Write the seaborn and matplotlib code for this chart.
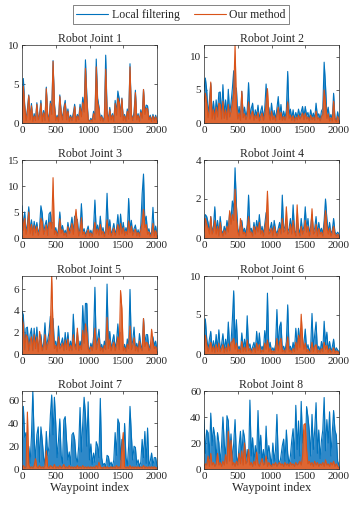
import numpy as np
import matplotlib
matplotlib.use("Agg")
import matplotlib.pyplot as plt
import seaborn as sns

# waypoint indices sampled every 20 steps
waypoints = list(range(0, 2001, 20))

j1_local = [0.5, 5.7, 2.3, 0.4, 1.8, 3.6, 0.6, 2.5, 0.3, 1.2,
            0.4, 2.6, 0.5, 1.1, 2.9, 0.3, 1.6, 0.4, 4.6, 1.2,
            0.3, 2.8, 1.4, 8.0, 2.6, 0.4, 1.0, 0.3, 3.6, 1.5,
            0.5, 2.0, 2.9, 0.6, 1.8, 0.3, 1.0, 0.4, 1.3, 2.4,
            0.3, 1.1, 0.6, 2.4, 1.0, 3.3, 1.8, 8.1, 3.6, 0.5,
            0.2, 0.6, 0.3, 1.5, 0.5, 8.2, 3.2, 2.1, 0.4, 1.0,
            0.3, 0.8, 8.7, 1.6, 0.3, 2.0, 0.5, 1.2, 0.3, 2.9,
            1.3, 4.1, 3.1, 1.0, 3.2, 0.4, 1.1, 0.3, 1.8, 0.6,
            7.6, 1.2, 0.4, 1.4, 4.2, 0.5, 1.2, 0.3, 1.7, 0.8,
            4.3, 1.4, 2.3, 2.2, 0.5, 1.0, 0.3, 1.1, 0.4, 1.0,
            0.3]
j1_ours = [0.4, 4.7, 2.0, 0.3, 1.5, 3.5, 0.4, 2.2, 0.2, 0.9,
           0.3, 2.4, 0.4, 0.8, 2.5, 0.2, 1.3, 0.3, 4.4, 0.9,
           0.2, 2.5, 1.1, 7.9, 2.2, 0.3, 0.8, 0.2, 3.4, 1.2,
           0.4, 1.7, 2.5, 0.4, 1.5, 0.2, 0.8, 0.3, 1.0, 2.1,
           0.2, 0.9, 0.4, 2.0, 0.8, 2.6, 1.4, 7.0, 2.8, 0.4,
           0.2, 0.4, 0.2, 1.2, 0.4, 7.2, 2.6, 1.8, 0.3, 0.8,
           0.2, 0.6, 6.9, 1.3, 0.2, 1.7, 0.4, 1.0, 0.2, 2.5,
           1.0, 3.2, 2.6, 0.8, 3.1, 0.3, 0.9, 0.2, 1.5, 0.5,
           7.2, 1.0, 0.3, 1.1, 3.9, 0.4, 1.0, 0.2, 1.4, 0.6,
           4.3, 1.1, 1.9, 1.8, 0.4, 0.8, 0.2, 0.9, 0.3, 0.8,
           0.2]

j2_local = [5.0, 6.8, 5.0, 1.2, 3.4, 6.0, 1.0, 3.3, 0.8, 3.5,
            1.5, 4.6, 4.7, 1.0, 5.8, 1.2, 3.5, 0.8, 5.1, 1.4,
            3.0, 5.2, 7.9, 2.0, 5.3, 1.0, 2.5, 0.7, 4.8, 1.2,
            2.4, 0.8, 2.0, 6.1, 1.0, 2.2, 3.0, 0.6, 2.0, 1.1,
            2.7, 0.5, 1.8, 2.6, 0.7, 2.2, 5.9, 1.6, 2.4, 0.6,
            3.0, 0.8, 1.9, 0.5, 2.2, 4.0, 0.9, 2.8, 0.6, 1.8,
            0.7, 2.0, 7.8, 1.2, 2.1, 0.6, 2.0, 0.5, 1.6, 0.8,
            2.1, 1.0, 1.7, 2.5, 0.9, 2.5, 1.1, 1.6, 0.5, 2.0,
            0.8, 1.5, 0.6, 3.0, 1.0, 1.4, 0.5, 1.8, 2.2, 9.2,
            5.7, 1.2, 2.4, 0.5, 1.3, 0.4, 4.5, 0.8, 0.3, 1.7,
            0.4]
j2_ours = [3.2, 4.5, 3.0, 0.8, 2.2, 6.2, 0.6, 2.0, 0.5, 2.4,
           0.9, 3.0, 2.8, 0.6, 3.3, 0.7, 2.0, 0.5, 2.8, 0.9,
           1.8, 3.0, 4.5, 11.8, 2.8, 0.6, 1.5, 0.4, 4.8, 0.8,
           1.4, 0.5, 1.2, 3.2, 0.6, 1.3, 1.8, 0.4, 1.2, 0.7,
           1.6, 0.3, 1.0, 1.5, 0.4, 1.3, 3.0, 5.2, 1.4, 0.4,
           1.8, 0.5, 1.1, 0.3, 1.3, 2.4, 0.5, 1.6, 0.4, 1.0,
           0.4, 1.2, 3.2, 0.7, 1.2, 0.4, 1.1, 0.3, 0.9, 0.5,
           1.2, 0.6, 1.0, 1.5, 0.5, 1.5, 0.6, 0.9, 0.3, 1.2,
           0.5, 0.9, 0.4, 1.8, 0.6, 0.8, 0.3, 1.0, 1.3, 5.0,
           3.0, 0.7, 1.4, 0.3, 0.8, 0.3, 3.3, 0.5, 0.2, 1.0,
           0.3]

j3_local = [6.2, 2.0, 5.0, 1.0, 2.8, 6.0, 1.2, 3.5, 0.8, 3.2,
            1.5, 3.0, 0.7, 2.0, 6.2, 4.7, 1.0, 2.4, 3.4, 0.8,
            4.6, 5.0, 2.8, 3.0, 1.0, 2.0, 0.6, 1.8, 5.0, 1.3,
            2.4, 0.8, 1.5, 0.5, 3.0, 1.2, 2.2, 4.0, 1.0, 4.2,
            1.4, 3.6, 0.6, 2.0, 6.6, 1.0, 1.8, 0.5, 1.4, 2.3,
            0.6, 1.5, 0.4, 2.0, 7.3, 1.2, 2.5, 0.8, 4.2, 1.0,
            2.0, 0.5, 1.6, 8.6, 1.0, 3.5, 0.6, 1.5, 2.8, 0.7,
            1.8, 4.5, 0.9, 4.6, 1.2, 3.0, 0.8, 2.0, 1.0, 7.6,
            1.5, 3.4, 0.7, 1.8, 2.5, 0.6, 1.6, 0.5, 2.4, 8.5,
            12.3, 3.0, 4.2, 1.0, 1.8, 0.5, 1.2, 5.9, 0.6, 2.3,
            0.5]
j3_ours = [5.2, 1.5, 3.8, 0.7, 2.0, 5.0, 0.8, 2.6, 0.5, 2.4,
           1.0, 2.2, 0.5, 1.4, 3.8, 3.0, 0.7, 1.6, 2.5, 0.5,
           2.9, 3.0, 1.8, 11.6, 0.7, 1.4, 0.4, 1.2, 3.7, 0.9,
           1.6, 0.5, 1.0, 0.3, 2.2, 0.8, 1.5, 2.8, 0.7, 3.0,
           5.5, 2.4, 0.4, 1.4, 3.9, 0.7, 1.2, 0.3, 0.9, 1.6,
           0.4, 1.0, 0.3, 1.4, 3.0, 0.8, 1.7, 0.5, 2.6, 0.7,
           1.3, 0.3, 1.1, 3.5, 0.7, 2.2, 0.4, 1.0, 1.9, 0.5,
           1.2, 2.6, 0.6, 2.8, 0.8, 2.0, 0.5, 1.3, 0.7, 3.3,
           1.0, 2.3, 0.5, 1.2, 1.7, 0.4, 1.1, 0.3, 1.6, 3.0,
           5.5, 2.0, 2.6, 0.7, 1.2, 0.3, 0.8, 2.8, 0.4, 1.4,
           0.3]

j4_local = [0.4, 1.2, 1.1, 0.8, 0.3, 1.1, 0.3, 0.6, 1.6, 0.3,
            0.9, 0.2, 1.1, 0.4, 0.2, 0.6, 0.3, 0.9, 0.5, 1.3,
            1.0, 1.9, 1.4, 3.6, 1.7, 0.5, 0.2, 0.6, 0.9, 0.3,
            0.5, 0.2, 0.7, 2.2, 0.4, 0.5, 0.2, 0.8, 0.3, 0.9,
            0.4, 1.2, 0.3, 0.6, 0.2, 0.7, 1.3, 1.0, 0.3, 0.5,
            0.8, 0.2, 0.9, 0.4, 0.2, 0.5, 0.8, 0.3, 2.2, 0.4,
            0.6, 1.0, 0.3, 0.5, 1.0, 0.3, 1.7, 0.4, 0.2, 0.9,
            0.5, 0.2, 1.0, 0.3, 0.6, 1.6, 0.4, 1.0, 0.2, 0.6,
            1.2, 0.3, 0.5, 1.1, 0.2, 0.8, 0.3, 0.5, 0.2, 0.9,
            2.0, 1.0, 0.3, 0.8, 0.2, 0.4, 1.0, 0.3, 0.2, 0.3,
            0.2]
j4_ours = [0.3, 1.0, 0.7, 0.5, 0.2, 1.1, 0.2, 0.4, 0.9, 0.2,
           0.6, 0.1, 0.8, 0.3, 0.1, 0.4, 0.2, 0.6, 0.3, 1.4,
           0.7, 1.2, 0.9, 2.5, 1.0, 0.3, 0.1, 1.0, 0.6, 0.2,
           0.3, 0.1, 0.5, 1.1, 0.3, 0.3, 0.1, 0.6, 0.2, 0.6,
           0.3, 0.8, 0.2, 0.4, 0.1, 0.5, 0.9, 2.4, 0.2, 0.3,
           0.5, 0.1, 0.6, 0.3, 0.1, 0.3, 0.5, 0.2, 1.0, 0.3,
           0.4, 1.6, 0.2, 0.3, 0.7, 0.2, 0.9, 0.3, 0.1, 1.7,
           0.3, 0.1, 0.6, 0.2, 0.4, 0.9, 0.3, 0.6, 0.1, 0.4,
           1.5, 0.2, 0.3, 0.7, 0.1, 0.5, 0.2, 0.3, 0.1, 0.6,
           1.4, 0.6, 0.2, 0.5, 0.1, 0.3, 0.6, 0.2, 0.1, 0.2,
           0.1]

j5_local = [4.0, 3.6, 0.6, 2.4, 2.5, 0.5, 1.8, 2.4, 0.4, 2.4,
            0.8, 2.5, 0.3, 1.2, 1.8, 0.4, 1.0, 2.9, 0.6, 1.3,
            2.0, 3.5, 2.4, 3.3, 0.8, 1.2, 0.3, 2.6, 0.7, 1.0,
            1.5, 0.4, 2.0, 0.6, 2.0, 0.5, 1.2, 0.4, 3.7, 1.0,
            0.6, 2.0, 0.4, 1.2, 0.6, 4.5, 1.5, 4.7, 4.7, 0.8,
            0.3, 1.0, 0.5, 1.6, 6.2, 0.6, 1.4, 2.3, 0.4, 0.9,
            0.3, 1.2, 0.6, 6.5, 0.8, 2.1, 0.4, 1.2, 1.8, 0.5,
            1.2, 2.8, 0.6, 2.0, 1.0, 0.4, 0.9, 0.3, 1.4, 0.7,
            6.0, 0.6, 1.2, 2.5, 0.4, 1.0, 0.3, 1.9, 0.8, 0.5,
            3.3, 1.0, 1.8, 1.8, 0.4, 0.9, 0.3, 1.6, 0.8, 1.2,
            0.3]
j5_ours = [3.4, 2.6, 0.4, 1.8, 1.6, 0.3, 1.2, 1.6, 0.3, 1.8,
           0.5, 1.6, 0.2, 2.1, 1.2, 0.3, 0.7, 1.8, 0.4, 0.9,
           1.3, 2.4, 7.3, 2.2, 0.5, 0.8, 0.2, 1.6, 0.5, 0.7,
           1.0, 0.3, 1.3, 0.4, 1.4, 0.3, 0.8, 0.3, 1.8, 0.7,
           0.4, 2.4, 0.3, 0.8, 0.4, 2.2, 1.0, 2.8, 2.0, 0.5,
           0.2, 0.7, 0.3, 1.0, 2.4, 0.4, 0.9, 1.5, 0.3, 0.6,
           0.2, 0.8, 0.4, 3.4, 0.5, 1.3, 0.3, 0.8, 1.1, 0.3,
           0.8, 1.6, 0.4, 5.9, 4.2, 0.3, 0.6, 0.2, 0.9, 0.5,
           2.6, 0.4, 0.8, 1.5, 0.3, 0.7, 0.2, 1.2, 0.5, 0.3,
           3.3, 0.7, 1.1, 1.0, 0.3, 0.6, 2.3, 1.0, 0.5, 0.7,
           0.2]

j6_local = [1.0, 4.5, 2.0, 0.6, 1.9, 2.9, 0.5, 1.7, 0.4, 2.5,
            0.6, 3.1, 0.5, 1.2, 2.6, 0.4, 1.9, 0.6, 4.1, 0.8,
            1.4, 4.4, 8.1, 1.2, 4.4, 0.5, 1.0, 0.3, 2.7, 0.6,
            1.9, 0.5, 4.9, 0.8, 1.3, 0.3, 0.9, 1.5, 0.4, 2.9,
            0.7, 2.7, 0.4, 1.0, 0.5, 3.0, 1.2, 7.8, 0.6, 1.5,
            0.3, 0.8, 0.4, 1.2, 5.7, 0.8, 3.5, 4.1, 0.5, 1.0,
            0.3, 1.6, 6.3, 0.6, 1.0, 0.3, 1.5, 0.5, 3.3, 1.0,
            3.3, 1.6, 3.3, 0.8, 1.4, 3.2, 0.5, 1.2, 0.3, 0.9,
            5.2, 0.6, 2.5, 4.1, 0.4, 1.0, 0.3, 1.6, 0.5, 4.2,
            1.2, 2.8, 0.4, 1.6, 0.3, 0.9, 1.9, 0.3, 0.8, 0.5,
            0.3]
j6_ours = [0.6, 2.4, 1.2, 0.3, 1.0, 1.5, 0.3, 1.0, 0.2, 1.2,
           0.3, 1.4, 0.3, 0.7, 1.2, 0.2, 0.9, 0.3, 1.3, 0.4,
           1.5, 1.6, 2.0, 0.6, 1.4, 0.3, 0.6, 0.2, 1.6, 0.3,
           0.9, 0.3, 1.8, 0.4, 0.7, 0.2, 0.5, 0.8, 0.2, 1.4,
           0.4, 1.2, 0.2, 0.5, 0.3, 1.4, 0.6, 1.8, 0.3, 0.8,
           0.2, 0.4, 0.2, 0.6, 2.0, 0.4, 1.5, 2.0, 0.3, 0.5,
           0.2, 0.8, 2.2, 0.3, 0.5, 0.2, 0.7, 0.3, 1.5, 0.5,
           2.4, 0.8, 5.1, 2.0, 0.6, 1.4, 0.3, 0.6, 0.2, 0.4,
           1.5, 0.3, 1.0, 1.2, 0.2, 0.5, 0.2, 0.7, 0.3, 1.5,
           0.6, 1.1, 0.2, 0.7, 0.2, 0.4, 0.8, 0.2, 0.4, 0.3,
           0.2]

j7_local = [8, 55, 28, 32, 12, 20, 5, 29, 68.5, 27,
            8, 30, 37, 6, 37, 25, 10, 4, 33, 12,
            20, 47, 65, 30, 63, 40, 10, 25, 44, 12,
            5, 43, 46, 25, 8, 15, 4, 30, 32, 26,
            10, 6, 20, 54, 15, 40, 63, 48, 20, 59,
            8, 22, 4, 14, 6, 24, 20, 10, 62, 10,
            3, 5, 2, 12, 11, 3, 6, 2, 8, 32,
            12, 44, 40, 8, 26, 5, 40, 10, 3, 20,
            55, 30, 8, 20, 19, 4, 8, 2, 6, 26,
            10, 33, 5, 36, 3, 7, 14, 3, 10, 10,
            3]
j7_ours = [2, 3, 1, 2, 50, 4, 1, 2, 1, 3,
           9, 2, 1, 3, 1, 2, 1, 3, 16, 2,
           1, 3, 2, 1, 4, 1, 2, 1, 3, 1,
           2, 4, 1, 2, 1, 3, 1, 2, 1, 2,
           1, 3, 1, 2, 1, 3, 1, 2, 1, 2,
           1, 2, 1, 2, 1, 3, 1, 6, 2, 1,
           1, 2, 1, 2, 1, 1, 2, 1, 2, 1,
           3, 1, 2, 1, 20, 32, 2, 1, 2, 1,
           3, 1, 2, 1, 2, 1, 2, 1, 2, 1,
           3, 1, 2, 1, 2, 1, 2, 1, 2, 1,
           1]

j8_local = [38, 12, 30, 28, 8, 43, 18, 32, 25, 6,
            28, 20, 5, 18, 40, 20, 8, 41, 37, 12,
            27, 6, 20, 38, 10, 4, 18, 29, 8, 30,
            24, 6, 15, 4, 53, 10, 24, 5, 18, 8,
            45, 12, 26, 6, 15, 4, 33, 8, 18, 10,
            3, 20, 6, 15, 42, 8, 3, 10, 18, 23,
            6, 30, 12, 4, 10, 22, 31, 8, 49, 15,
            37, 10, 52, 20, 30, 12, 48, 40, 29, 10,
            42, 15, 30, 51, 12, 30, 8, 22, 30, 55,
            14, 38, 20, 44, 10, 28, 45, 30, 26, 6,
            3]
j8_ours = [2, 4, 3, 10, 2, 12, 3, 5, 2, 4,
           12, 3, 5, 2, 6, 3, 11, 4, 29, 6,
           22, 3, 5, 2, 6, 3, 12, 4, 14, 3,
           20, 4, 6, 15, 3, 5, 2, 6, 3, 13,
           4, 2, 5, 8, 3, 4, 10, 2, 5, 3,
           2, 4, 3, 5, 2, 4, 5, 3, 4, 2,
           5, 3, 4, 2, 5, 3, 4, 2, 5, 3,
           4, 6, 3, 10, 34, 35, 15, 4, 6, 3,
           5, 2, 6, 3, 5, 2, 4, 3, 5, 2,
           7, 3, 4, 2, 5, 3, 6, 2, 4, 2,
           1]

titles = ["Robot Joint %d" % i for i in range(1, 9)]
local_series = [j1_local, j2_local, j3_local, j4_local, j5_local, j6_local, j7_local, j8_local]
ours_series = [j1_ours, j2_ours, j3_ours, j4_ours, j5_ours, j6_ours, j7_ours, j8_ours]
y_tops = [10, 11.8, 15, 4, 7.25, 10, 68.5, 60]
y_ticks = [[0, 5, 10], [0, 5, 10], [0, 5, 10, 15], [0, 2, 4],
           [0, 2, 4, 6], [0, 5, 10], [0, 20, 40, 60], [0, 20, 40, 60]]

for s in local_series + ours_series:
    assert len(s) == len(waypoints)

sns.set_style("ticks")
plt.rcParams['font.family'] = ['Liberation Serif', 'DejaVu Serif']
plt.rcParams['axes.linewidth'] = 0.5

blue = '#0072BD'
orange = '#D95319'
# the real traces are very dense, so shade under them to mimic that
blue_fill = '#2E88C8'
orange_fill = '#DE6632'

fig = plt.figure(figsize=(3.57, 5.11), dpi=100)
lefts = [22 / 357, 204 / 357]
bottoms = [1 - 123 / 511, 1 - 238 / 511, 1 - 354 / 511, 1 - 469 / 511]
w = 135 / 357
h = 78 / 511

for i in range(8):
    r, c = divmod(i, 2)
    ax = fig.add_axes([lefts[c], bottoms[r], w, h])
    ax.fill_between(waypoints, 0, local_series[i], color=blue_fill, lw=0, zorder=1)
    sns.lineplot(x=waypoints, y=local_series[i], ax=ax, color=blue, lw=0.8,
                 label='Local filtering' if i == 0 else None, legend=False, zorder=2)
    ax.fill_between(waypoints, 0, ours_series[i], color=orange_fill, lw=0, zorder=3)
    sns.lineplot(x=waypoints, y=ours_series[i], ax=ax, color=orange, lw=0.8,
                 label='Our method' if i == 0 else None, legend=False, zorder=4)
    ax.set_xlim(0, 2000)
    ax.set_ylim(0, y_tops[i])
    ax.set_xticks([0, 500, 1000, 1500, 2000])
    ax.set_yticks(y_ticks[i])
    ax.tick_params(direction='in', top=True, right=True, labelsize=8,
                   length=2.5, width=0.5, pad=2, colors='#262626')
    for sp in ax.spines.values():
        sp.set_color('#262626')
        sp.set_zorder(5)
    ax.set_title(titles[i], fontsize=8.5, pad=2)
    if r == 3:
        ax.set_xlabel('Waypoint index', fontsize=9, labelpad=1)

handles, labels = fig.axes[0].get_legend_handles_labels()
fig.legend(handles, labels, loc='center', bbox_to_anchor=(0.507, 0.971), ncol=2,
           fontsize=8.5, frameon=True, fancybox=False, edgecolor='#262626',
           handlelength=2.7, columnspacing=1.2, borderpad=0.3, handletextpad=0.3)
fig.legends[0].get_frame().set_linewidth(0.5)

fig.savefig('out.png', dpi=100)
